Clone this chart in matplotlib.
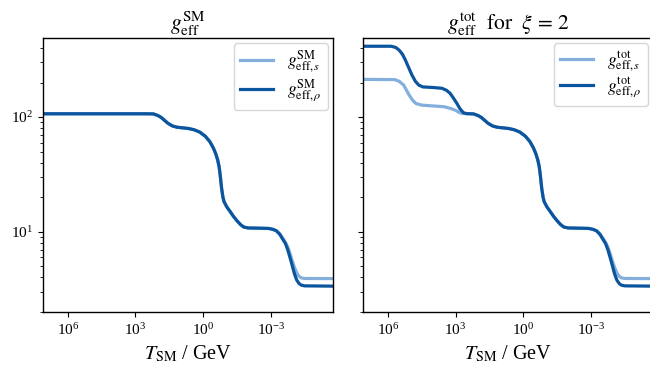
import numpy as np
from matplotlib import pyplot as plt
from matplotlib.ticker import NullLocator

# log10(T_SM / GeV) and g_eff values
logT_sm = [7.1, 2.5, 2.2, 2.0, 1.85, 1.72, 1.55, 1.35, 1.15, 0.9, 0.65, 0.4, 0.15, -0.1, -0.3,
           -0.45, -0.56, -0.65, -0.71, -0.76, -0.82, -0.88, -0.93, -1.05, -1.2, -1.35, -1.5,
           -1.65, -1.8, -2.0, -2.5, -2.9, -3.1, -3.25, -3.4, -3.55, -3.65, -3.75, -3.85, -3.95,
           -4.05, -4.15, -4.25, -4.35, -4.5, -5.8]
g_rho_sm = [106.75, 106.75, 106.5, 103, 99, 94, 88, 83.5, 81.5, 80.5, 79.5, 77.5, 74, 68, 61,
            54, 48, 42, 37, 31, 24, 20, 18.3, 16.5, 15, 13.6, 12.5, 11.6, 11.0, 10.8, 10.75, 10.7,
            10.5, 10.2, 9.5, 8.5, 7.9, 7.0, 6.0, 5.1, 4.3, 3.8, 3.55, 3.43, 3.38, 3.36]
g_s_sm = [106.75, 106.75, 106.5, 103, 99, 94, 88, 83.5, 81.5, 80.5, 79.5, 77.5, 74, 68, 61,
          54, 48, 42, 37, 31, 24, 20, 18.3, 16.5, 15, 13.6, 12.5, 11.6, 11.0, 10.8, 10.75, 10.7,
          10.5, 10.2, 9.6, 8.7, 8.1, 7.4, 6.5, 5.6, 4.9, 4.4, 4.1, 3.97, 3.92, 3.91]

# hidden sector bump at high T (xi = 2), joins the SM curve below ~10^2.4 GeV
logT_hi_rho = [7.1, 5.85, 5.65, 5.5, 5.35, 5.22, 5.07, 4.93, 4.78, 4.63, 4.45, 4.0, 3.6, 3.4,
               3.24, 3.1, 2.94, 2.8, 2.65, 2.5]
g_rho_hi = [414, 414, 404, 383, 352, 313, 268, 232, 205, 190, 183, 181, 178, 171,
            161, 147, 131.5, 118, 109, 107]
logT_hi_s = [7.1, 5.7, 5.5, 5.3, 5.15, 5.05, 4.9, 4.75, 4.5, 3.5, 3.2, 3.0, 2.85, 2.7, 2.5]
g_s_hi = [213, 212, 205, 190, 168, 155, 140, 131, 127, 123, 118.5, 114.5, 110, 107.5, 107]

light = '#84aedc'
dark = '#0b559f'

plt.rcParams['font.family'] = 'serif'
plt.rcParams['font.serif'] = ['Liberation Serif', 'DejaVu Serif']
plt.rcParams['mathtext.fontset'] = 'stix'
plt.rcParams['axes.linewidth'] = 1.0

T_sm = 10 ** np.array(logT_sm)
low = np.array(logT_sm) < 2.4
T_rho_tot = np.concatenate([10 ** np.array(logT_hi_rho), T_sm[low]])
g_rho_tot = np.concatenate([g_rho_hi, np.array(g_rho_sm)[low]])
T_s_tot = np.concatenate([10 ** np.array(logT_hi_s), T_sm[low]])
g_s_tot = np.concatenate([g_s_hi, np.array(g_s_sm)[low]])

fig = plt.figure(figsize=(6.5, 3.71), dpi=100)
ax1 = fig.add_axes([0.066, 0.159, 0.446, 0.739])
ax2 = fig.add_axes([0.5585, 0.159, 0.446, 0.739], sharey=ax1)

ax1.plot(T_sm, g_s_sm, color=light, lw=2.3, label=r'$g^{\rm SM}_{{\rm eff},s}$')
ax1.plot(T_sm, g_rho_sm, color=dark, lw=2.3, label=r'$g^{\rm SM}_{{\rm eff},\rho}$')
ax2.plot(T_s_tot, g_s_tot, color=light, lw=2.3, label=r'$g^{\rm tot}_{{\rm eff},s}$')
ax2.plot(T_rho_tot, g_rho_tot, color=dark, lw=2.3, label=r'$g^{\rm tot}_{{\rm eff},\rho}$')

ax1.set_title(r'$g_{\rm eff}^{\rm SM}$', fontsize=15.5, pad=3)
ax2.set_title(r'$g_{\rm eff}^{\rm tot}\ \ \mathrm{for}\ \ \xi\, =\, 2$', fontsize=15.5, pad=3)

for ax in (ax1, ax2):
    ax.set_xscale('log')
    ax.set_yscale('log')
    ax.set_xlim(10 ** 7.1, 10 ** -5.75)
    ax.set_ylim(2.0, 490)
    ax.set_xticks([1e6, 1e3, 1e0, 1e-3])
    ax.xaxis.set_minor_locator(NullLocator())
    ax.set_xlabel(r'$T_{\rm SM}$ / GeV', fontsize=14.5)
    ax.tick_params(labelsize=11)
    ax.legend(loc='upper right', fontsize=12.5, handlelength=1.9, borderpad=0.35,
              labelspacing=0.15, borderaxespad=0.3)

ax2.tick_params(labelleft=False, which='both')

fig.savefig('out.png', dpi=100)
